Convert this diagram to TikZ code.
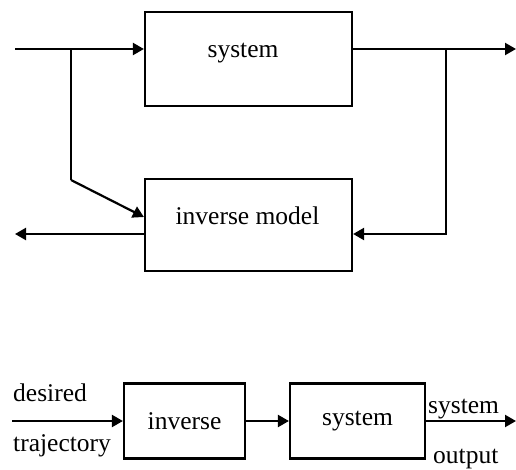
\documentclass[tikz,border=0pt]{standalone}
\usepackage{fontspec}
\setmainfont{Liberation Serif}
\usetikzlibrary{arrows.meta}
\begin{document}
\begin{tikzpicture}[x=1pt,y=-1pt,
  box/.style={draw,line width=2.2pt,minimum width=#1,inner sep=0pt},
  lbl/.style={font=\fontsize{25.5}{28}\selectfont,inner sep=0pt},
  arr/.style={line width=2.2pt,-{Triangle[length=11pt,width=12pt]}},
  ln/.style={line width=2.2pt}]
\useasboundingbox (0,0) rectangle (516,470);
% top part
\node[box=207pt,minimum height=94pt] (sys1) at (248.5,59) {};
\node[box=207pt,minimum height=92pt] (inv1) at (248.5,225) {};
\node[lbl,anchor=base] (sys1t) at (243,58) {system};
\node[lbl,anchor=base] (inv1t) at (247.5,225) {inverse model};
\coordinate (in1) at (15,49);
\coordinate (b1) at (71,49);
\coordinate (k1) at (71,180);
\coordinate (t1) at (145,217);
\coordinate (out1) at (516,49);
\coordinate (b2) at (446,49);
\coordinate (k2) at (446,234);
\coordinate (o1) at (15,234);
\draw[arr] (in1) -- (in1 -| sys1.west);
\draw[ln] (b1) -- (k1);
\draw[arr] (k1) -- (t1 -| inv1.west);
\draw[arr] (sys1.east |- out1) -- (out1);
\draw[arr] (b2) -- (k2) -- (k2 -| inv1.east);
\draw[arr] (inv1.west |- o1) -- (o1);
% bottom part
\node[box=121pt,minimum height=75pt,lbl] (inv2) at (184.5,421) {inverse};
\node[box=135pt,minimum height=75pt,lbl] (sys2) at (357.5,421) {system};
\coordinate (in2) at (12,421);
\coordinate (out2) at (516,421);
\draw[arr] (in2) -- (inv2.west);
\draw[arr] (inv2.east) -- (sys2.west);
\draw[arr] (sys2.east) -- (out2);
\node[lbl,anchor=base west] (d) at (13,401) {desired};
\node[lbl,anchor=base west] (tr) at (13,451) {trajectory};
\node[lbl,anchor=base west] (so) at (428,413) {system};
\node[lbl,anchor=base west] (op) at (433,463) {output};
\end{tikzpicture}
\end{document}
